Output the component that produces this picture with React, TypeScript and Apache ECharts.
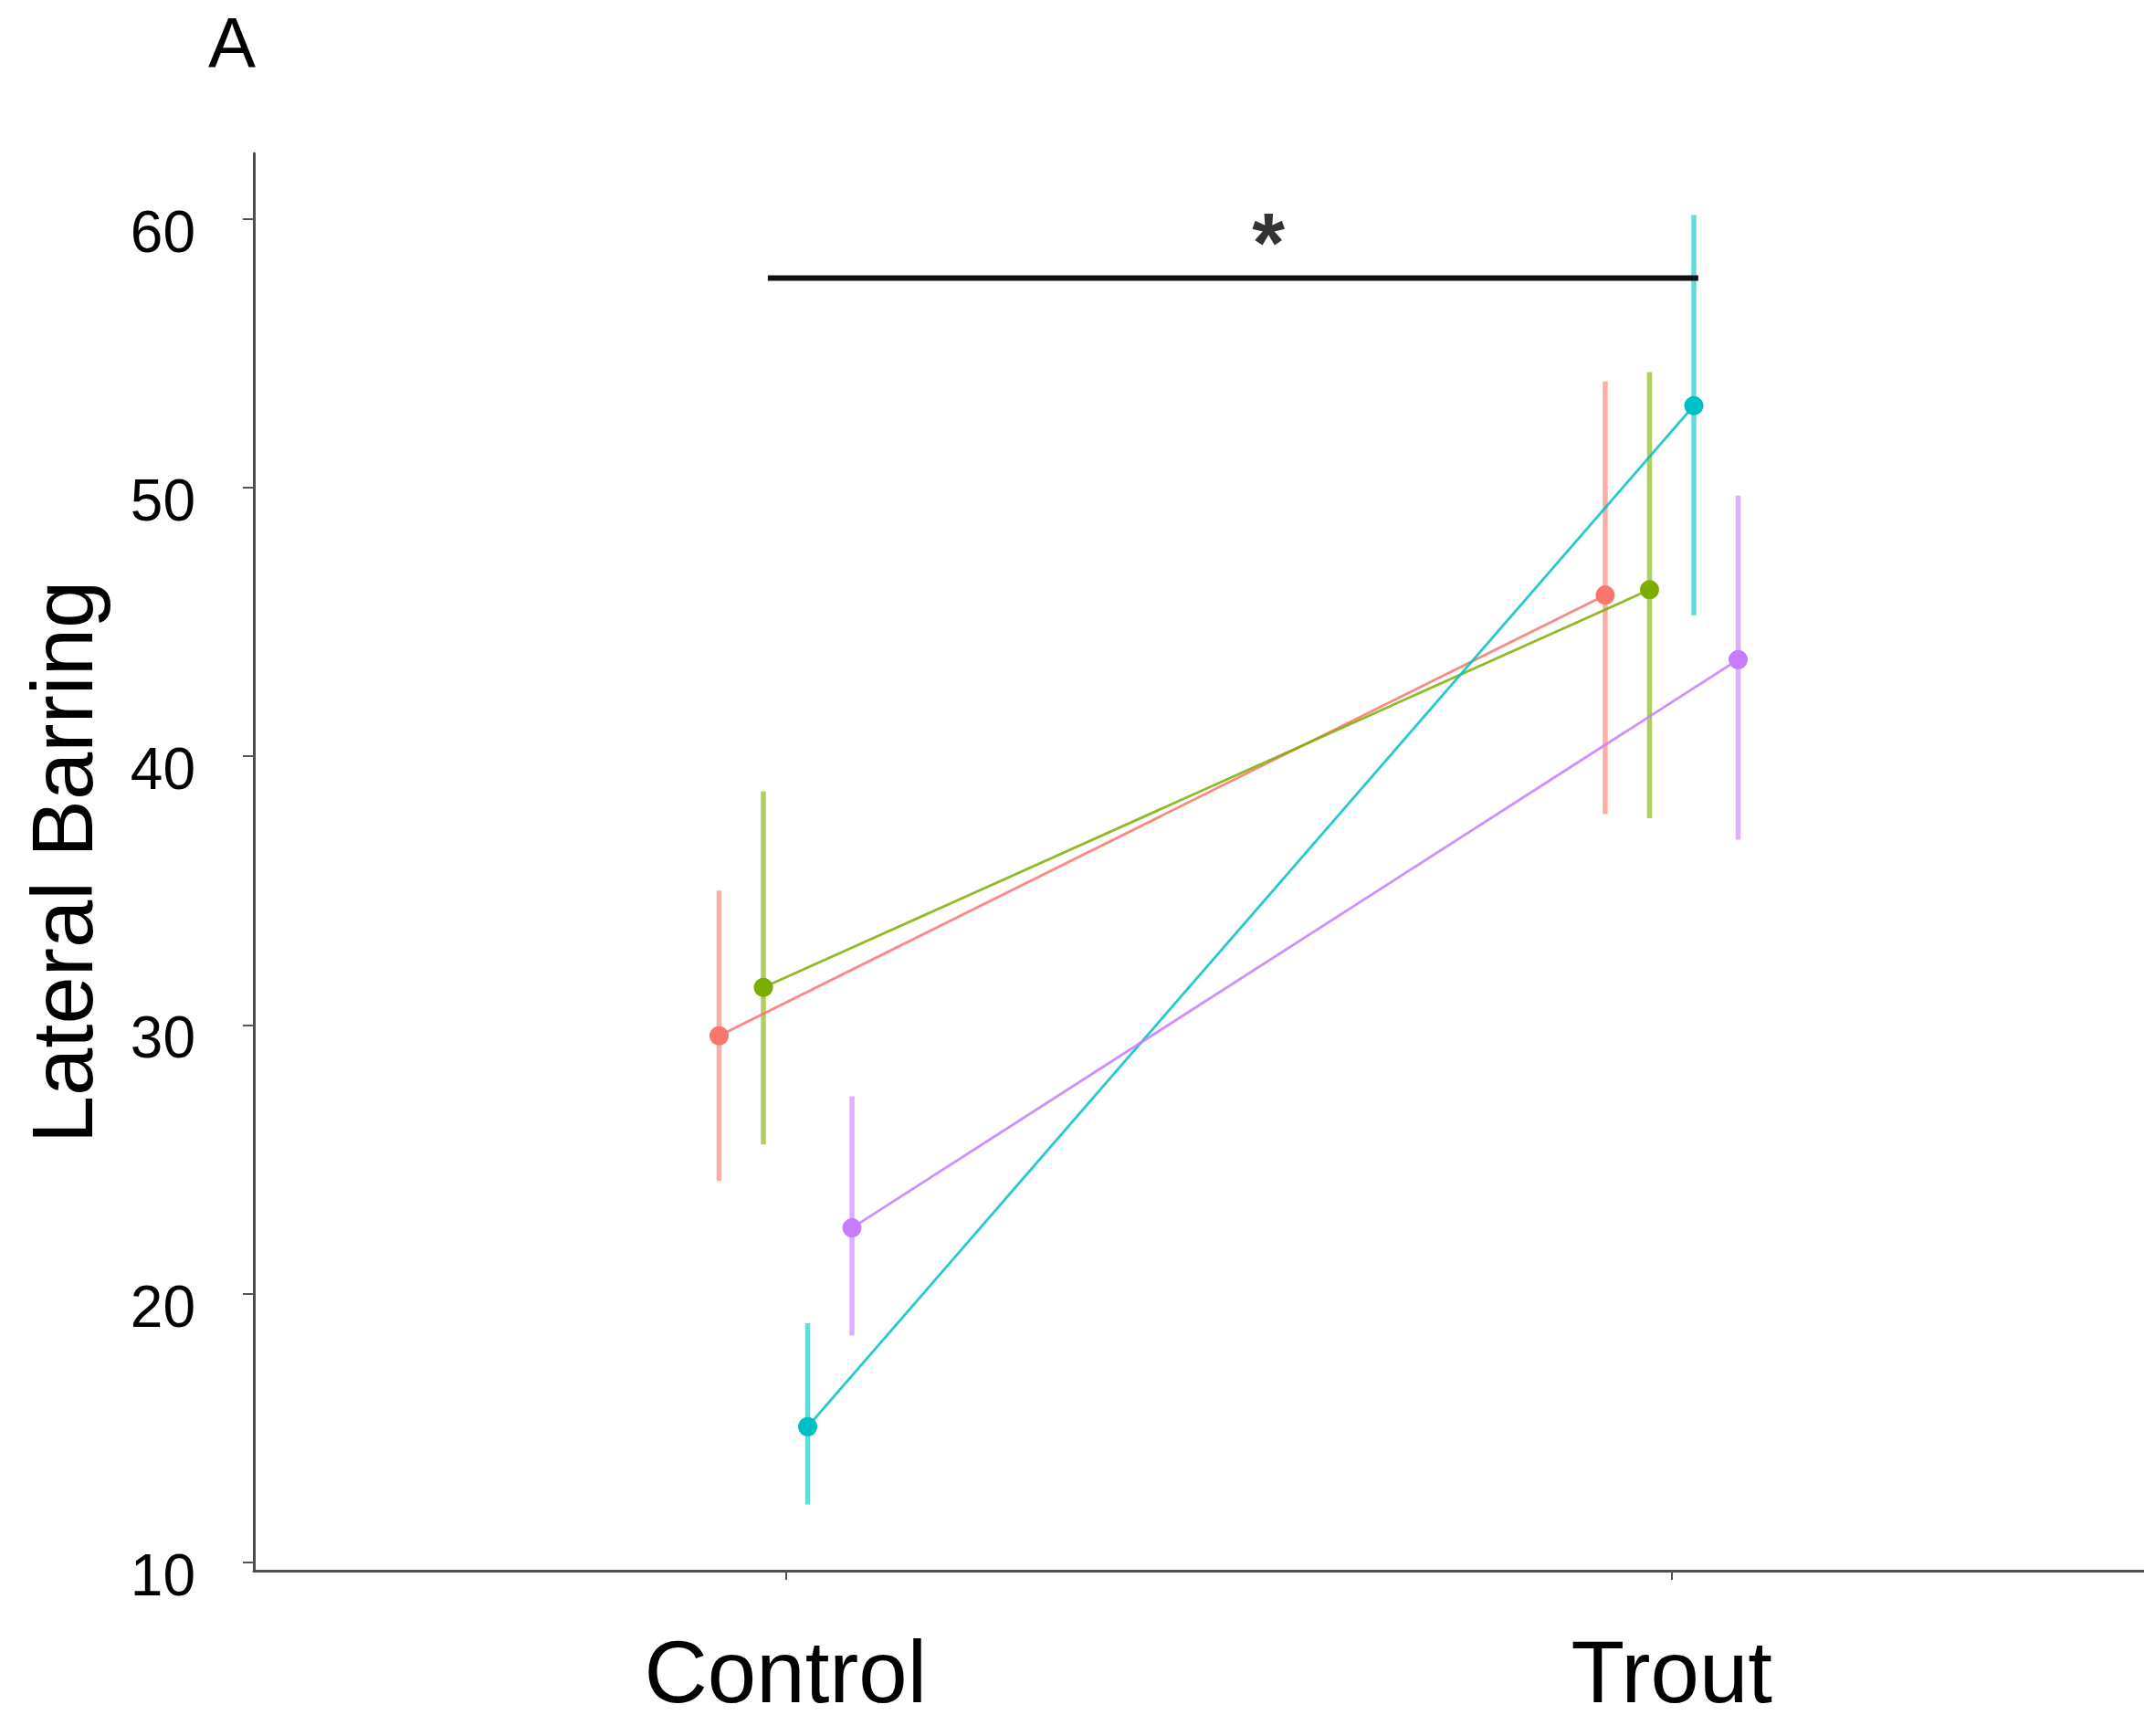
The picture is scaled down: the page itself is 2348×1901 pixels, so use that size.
import React, { useEffect, useRef } from "react";
import * as echarts from "echarts";

const categories = ["Control", "Trout"];
const groupNames = ["Group 1", "Group 2", "Group 3", "Group 4"];
const groupColors = ["#F8766D", "#7CAE00", "#00BFC4", "#C77CFF"];
const dodgeOffsets = [-0.075, -0.025, 0.025, 0.075];

const meanControl = [29.6, 31.4, 15.05, 22.45];
const lowerControl = [24.2, 25.55, 12.15, 18.45];
const upperControl = [35.0, 38.7, 18.9, 27.35];

const meanTrout = [46.0, 46.2, 53.05, 43.6];
const lowerTrout = [37.85, 37.7, 45.25, 36.9];
const upperTrout = [53.95, 54.3, 60.15, 49.7];

const yTicks = [10, 20, 30, 40, 50, 60];
const xTicks = [1, 2];

const sigBarX = [0.98, 2.03];
const sigBarY = 57.8;
const sigStarX = 1.545;
const sigStarY = 59.1;
const sigLabel = "*";

const FONT = "'Liberation Sans', Arial, sans-serif";

export default function App() {
  const ref = useRef<HTMLDivElement>(null);

  useEffect(() => {
    if (!ref.current) return;
    const chart = echarts.init(ref.current, null, { renderer: "svg" });

    const series: any[] = [];

    groupNames.forEach((name, i) => {
      const off = dodgeOffsets[i];
      const color = groupColors[i];
      series.push({
        name: name + " error",
        type: "custom",
        z: 2,
        data: [
          [1 + off, lowerControl[i], upperControl[i]],
          [2 + off, lowerTrout[i], upperTrout[i]],
        ],
        encode: { x: 0, y: [1, 2] },
        renderItem: (params: any, api: any) => {
          const x = api.value(0);
          const p1 = api.coord([x, api.value(1)]);
          const p2 = api.coord([x, api.value(2)]);
          return {
            type: "line",
            shape: { x1: p1[0], y1: p1[1], x2: p2[0], y2: p2[1] },
            style: { stroke: color, lineWidth: 5.5, opacity: 0.6 },
          };
        },
      });
    });

    groupNames.forEach((name, i) => {
      const off = dodgeOffsets[i];
      const color = groupColors[i];
      series.push({
        name,
        type: "line",
        z: 3,
        data: [
          [1 + off, meanControl[i]],
          [2 + off, meanTrout[i]],
        ],
        symbol: "circle",
        symbolSize: 21,
        itemStyle: { color },
        lineStyle: { color, width: 2.8, opacity: 0.85 },
      });
    });

    series.push({
      name: "significance",
      type: "line",
      z: 4,
      data: sigBarX.map((x) => [x, sigBarY]),
      symbol: "none",
      lineStyle: { color: "#111111", width: 6 },
    });

    series.push({
      name: "star",
      type: "scatter",
      z: 4,
      data: [[sigStarX, sigStarY]],
      symbolSize: 1,
      itemStyle: { color: "rgba(0,0,0,0)" },
      label: {
        show: true,
        position: "inside",
        formatter: () => sigLabel,
        fontSize: 92,
        fontWeight: "bold",
        fontFamily: FONT,
        color: "#000000",
      },
    });

    chart.setOption({
      animation: false,
      backgroundColor: "#ffffff",
      grid: { left: 278, right: 0, top: 168, bottom: 181, containLabel: false },
      graphic: [
        {
          type: "text",
          x: 228,
          y: 47,
          style: {
            text: "A",
            fontSize: 78,
            fontFamily: FONT,
            fill: "#000000",
            verticalAlign: "middle",
            align: "left",
          },
        },
      ],
      xAxis: {
        type: "value",
        min: 0.4,
        max: 2.533,
        axisLine: { show: true, onZero: false, lineStyle: { color: "#4d4d4d", width: 3 } },
        axisTick: { show: true, customValues: xTicks, length: 10, lineStyle: { color: "#555555", width: 2 } },
        axisLabel: {
          show: true,
          customValues: xTicks,
          formatter: (v: number) => categories[Math.round(v) - 1] ?? "",
          fontSize: 96,
          fontFamily: FONT,
          color: "#000000",
          margin: 62,
        },
        splitLine: { show: false },
      },
      yAxis: {
        type: "value",
        min: 9.69,
        max: 62.44,
        name: "Lateral Barring",
        nameLocation: "middle",
        nameGap: 163,
        nameTextStyle: { fontSize: 94, fontFamily: FONT, color: "#000000" },
        axisLine: { show: true, onZero: false, lineStyle: { color: "#4d4d4d", width: 3 } },
        axisTick: { show: true, customValues: yTicks, length: 12, lineStyle: { color: "#555555", width: 2 } },
        axisLabel: {
          show: true,
          customValues: yTicks,
          fontSize: 64,
          fontFamily: FONT,
          color: "#000000",
          margin: 64,
          verticalAlign: "top",
          lineHeight: 28,
        },
        splitLine: { show: false },
      },
      series,
    });

    return () => chart.dispose();
  }, []);

  return (
    <div
      ref={ref}
      style={{ position: "absolute", left: 0, top: 0, width: 2348, height: 1901 }}
    />
  );
}
